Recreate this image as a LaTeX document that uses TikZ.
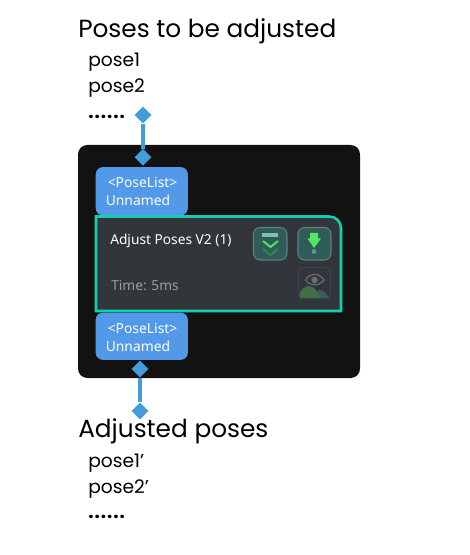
\documentclass[tikz,border=0pt]{standalone}
\usepackage{fontspec}
\usetikzlibrary{shapes.geometric}
\setmainfont{Poppins}
\newfontfamily\uifont{Noto Sans}
\newfontfamily\dotfont[LetterSpace=5.5]{Poppins Bold}
\definecolor{pinblue}{HTML}{439DD8}
\definecolor{portblue}{HTML}{5299E9}
\definecolor{panelblack}{HTML}{121212}
\definecolor{frameteal}{HTML}{12CFAE}
\definecolor{cardgrey}{HTML}{32363B}
\definecolor{btnfill}{HTML}{2F5C5A}
\definecolor{btnline}{HTML}{5F7F80}
\definecolor{brightgreen}{HTML}{4FE860}
\definecolor{dimgreen}{HTML}{2F8A4A}
\definecolor{barteal}{HTML}{7FBFB8}
\definecolor{dotteal}{HTML}{48A090}
\definecolor{iconedge}{HTML}{3B4550}
\definecolor{eyegrey}{HTML}{6A6E78}
\definecolor{hillgreen}{HTML}{3F6F4A}
\definecolor{hillteal}{HTML}{3A5C5C}
\definecolor{timegrey}{HTML}{9A9DA0}
\begin{document}
\begin{tikzpicture}[x=0.75pt,y=-0.75pt,
  heading/.style={anchor=base west,inner sep=0pt,font=\fontsize{18.6}{20}\selectfont,text=black},
  item/.style={anchor=base west,inner sep=0pt,font=\fontsize{14}{16}\selectfont,text=black},
  dots/.style={anchor=base west,inner sep=0pt,font=\dotfont\fontsize{14}{16}\selectfont,text=black},
  portlabel/.style={anchor=west,inner sep=0pt,text=white,font=\uifont\fontsize{10.4}{12}\selectfont},
  cardtext/.style={anchor=west,inner sep=0pt,font=\uifont\fontsize{10.3}{12}\selectfont},
  pin/.style={diamond,fill=pinblue,minimum width=12.75pt,minimum height=12.75pt,inner sep=0pt},
  pinwire/.style={draw=pinblue,line width=2.5pt},
  btn/.style={draw=btnline,line width=0.8pt,fill=btnfill,rounded corners=5pt}]
\useasboundingbox (0,0) rectangle (469,555);
\fill[white] (0,0) rectangle (469,555);
% dark panel
\fill[panelblack,rounded corners=7pt] (78,145) rectangle (360,378);
% ports
\path[draw=portblue,fill=portblue,rounded corners=5pt] (96,215) -- (96,167.5) -- (187.5,167.5) -- (187.5,215) -- cycle;
\path[draw=portblue,fill=portblue,rounded corners=5pt] (96,313) -- (96,359.5) -- (187.5,359.5) -- (187.5,313) -- cycle;
\node[portlabel] (toptype) at (107.5,182) {<PoseList>};
\node[portlabel] (topname) at (105.5,200) {Unnamed};
\node[portlabel] (bottype) at (107.5,328) {<PoseList>};
\node[portlabel] (botname) at (105.5,346) {Unnamed};
% card
\draw[frameteal,fill=cardgrey,line width=1.9pt] (96,216.5) -- (329,216.5) .. controls (336,216.5) and (341,221.5) .. (341,228.5) -- (341,311) -- (96,311) -- cycle;
\node[cardtext,text=white] (title) at (110,241) {Adjust Poses V2 (1)};
\node[cardtext,text=timegrey] (time) at (111,286) {Time: 5ms};
% button 1
\draw[btn] (253.5,227.5) rectangle (287,260);
\fill[barteal] (262,233) rectangle (278,237.5);
\draw[dimgreen,line width=1.4pt] (263,249) -- (270.5,255) -- (278,249);
\draw[brightgreen,line width=1.4pt] (263,241) -- (270.5,247) -- (278,241);
% button 2
\draw[btn] (298,227.5) rectangle (331,260);
\fill[brightgreen] (310,233) -- (318,233) -- (318,238.5) -- (321,238.5) -- (314,248) -- (307.5,238.5) -- (310,238.5) -- cycle;
\fill[dotteal] (314,251.5) circle[radius=2.4];
% preview icon
\draw[iconedge,line width=0.6pt,rounded corners=4pt] (298.5,267.5) rectangle (330.5,299);
\draw[eyegrey,line width=0.9pt] (305.5,280) .. controls (310,272.5) and (319,272.5) .. (324,280) .. controls (319,286.5) and (310,286.5) .. (305.5,280) -- cycle;
\fill[eyegrey] (314.5,280) circle[radius=3.2];
\fill[hillteal] (314,298) .. controls (316,293) and (318,290) .. (320,290) .. controls (324,290) and (327,294) .. (329,298) -- cycle;
\fill[hillgreen] (299.5,298) -- (299.5,293) .. controls (302,289) and (305,286) .. (309,286) .. controls (314,286) and (318,292) .. (320,298) -- cycle;
% texts
\node[heading] (htop) at (78,37.5) {Poses to be adjusted};
\node[item] (t1) at (88,67) {pose1};
\node[item] (t2) at (88,93) {pose2};
\node[dots] (t3) at (88,119) {......};
\node[heading] (hbot) at (78,437) {Adjusted poses};
\node[item] (b1) at (88,467) {pose1’};
\node[item] (b2) at (88,493) {pose2’};
\node[dots] (b3) at (88,518) {......};
% pins
\node[pin] (pintopa) at (143,115) {};
\node[pin] (pintopb) at (143,157.3) {};
\node[pin] (pinbota) at (140,369) {};
\node[pin] (pinbotb) at (140,411) {};
\draw[pinwire] (pintopa) -- (pintopb);
\draw[pinwire] (pinbota) -- (pinbotb);
\end{tikzpicture}
\end{document}
